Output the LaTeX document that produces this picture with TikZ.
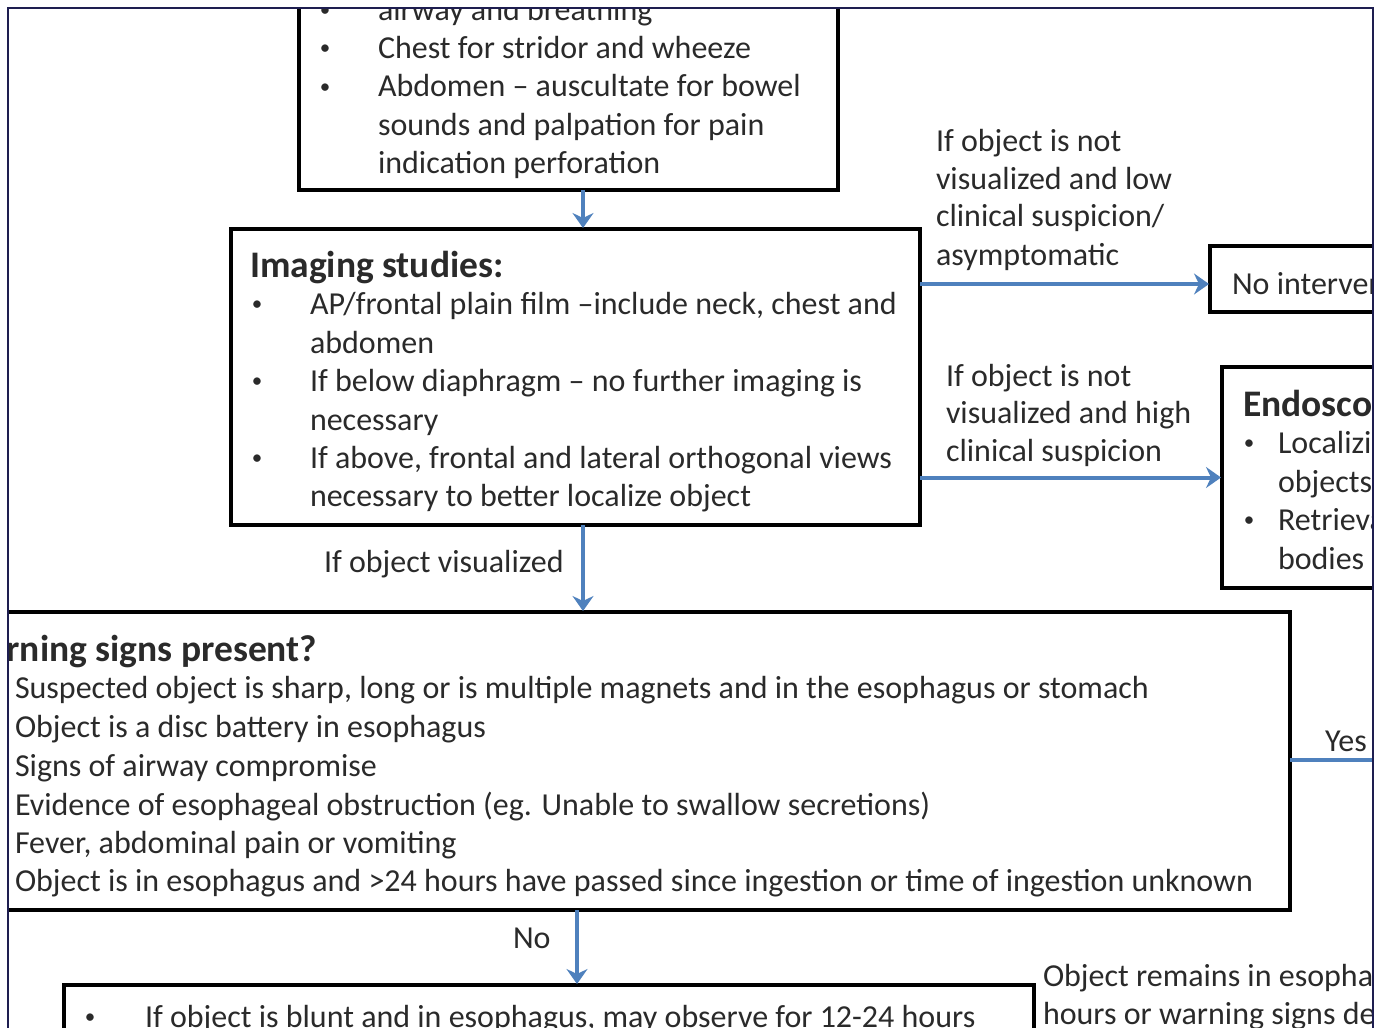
\documentclass[tikz,border=0pt]{standalone}
\usepackage{fontspec}
\setmainfont{Carlito}
\usetikzlibrary{arrows.meta}
\definecolor{arrblue}{HTML}{4F81BD}
\definecolor{txtcol}{HTML}{2A2A2A}
\definecolor{framecol}{HTML}{1E1E50}
\newcommand\bul{{\fontsize{21}{21}\selectfont\raisebox{3.5pt}{•}}}
\begin{document}
\begin{tikzpicture}[x=1pt,y=-1pt,
  boxst/.style={draw=black, line width=3.5pt, inner sep=0pt, outer sep=0pt, anchor=north west},
  txt/.style={anchor=base west, inner sep=0pt, outer sep=0pt, text=txtcol, font=\fontsize{32}{38.5}\selectfont},
  bulst/.style={anchor=base, inner sep=0pt, outer sep=0pt, text=txtcol},
  ttl/.style={txt, font=\fontsize{37.5}{45}\selectfont\bfseries},
  arr/.style={draw=arrblue, line width=4pt, -{Stealth[length=15pt,width=21pt,inset=5pt]}, shorten >=1pt},
  plainarr/.style={draw=arrblue, line width=4pt},
  ]
\useasboundingbox (0,0) rectangle (1387,1028);
\begin{scope}
\clip (8,8) rectangle (1373,1040);
% boxes
\node[boxst, minimum width=539pt, minimum height=270pt] (b1) at (299,-80) {};
\node[boxst, minimum width=689pt, minimum height=296pt] (b2) at (231,229) {};
\node[boxst, minimum width=270pt, minimum height=66pt] (noint) at (1210,246) {};
\node[boxst, minimum width=278pt, minimum height=221pt] (endo) at (1222,367) {};
\node[boxst, minimum width=1390pt, minimum height=298pt] (warn) at (-100,612) {};
\node[boxst, minimum width=970pt, minimum height=135pt] (bot) at (64,985) {};
% box 1 text
\node[bulst] (b1u1) at (325,20) {\bul};
\node[txt] (b1t1) at (378,20) {airway and breathing};
\node[bulst] (b1u2) at (325,58) {\bul};
\node[txt] (b1t2) at (378,58) {Chest for stridor and wheeze};
\node[bulst] (b1u3) at (325,96.5) {\bul};
\node[txt] (b1t3) at (378,96.5) {Abdomen – auscultate for bowel};
\node[txt] (b1t4) at (378,135) {sounds and palpation for pain};
\node[txt] (b1t5) at (378,173.5) {indication perforation};
% box 2 text
\node[ttl] (b2h) at (250,277) {Imaging studies:};
\node[bulst] (b2u1) at (257,314) {\bul};
\node[txt] (b2t1) at (310,314) {AP/frontal plain film –include neck, chest and};
\node[txt] (b2t2) at (310,353) {abdomen};
\node[bulst] (b2u2) at (257,391) {\bul};
\node[txt] (b2t3) at (310,391) {If below diaphragm – no further imaging is};
\node[txt] (b2t4) at (310,430) {necessary};
\node[bulst] (b2u3) at (257,468) {\bul};
\node[txt] (b2t5) at (310,468) {If above, frontal and lateral orthogonal views};
\node[txt] (b2t6) at (310,506) {necessary to better localize object};
% label low suspicion
\node[txt] (l1a) at (936,151) {If object is not};
\node[txt] (l1b) at (936,189) {visualized and low};
\node[txt] (l1c) at (936,226) {clinical suspicion/};
\node[txt] (l1d) at (936,265) {asymptomatic};
% no intervention
\node[txt] (nit) at (1232,294) {No intervention};
% label high suspicion
\node[txt] (l2a) at (946,386) {If object is not};
\node[txt] (l2b) at (946,423) {visualized and high};
\node[txt] (l2c) at (946,461) {clinical suspicion};
% endoscopy
\node[ttl] (enh) at (1243,416) {Endoscopy:};
\node[bulst] (enu1) at (1249,453) {\bul};
\node[txt] (ent1) at (1278,453) {Localizing};
\node[txt] (ent2) at (1278,492) {objects};
\node[bulst] (enu2) at (1249,530) {\bul};
\node[txt] (ent3) at (1278,530) {Retrieval};
\node[txt] (ent4) at (1278,569) {bodies};
% visualized label
\node[txt] (l3) at (324,572) {If object visualized};
% warning box
\node[ttl, anchor=base east] (wh) at (317,661) {Warning signs present?};
\node[txt] (w1) at (15,698) {Suspected object is sharp, long or is multiple magnets and in the esophagus or stomach};
\node[txt] (w2) at (15,737) {Object is a disc battery in esophagus};
\node[txt] (w3) at (15,776) {Signs of airway compromise};
\node[txt] (w4) at (15,815) {Evidence of esophageal obstruction (eg. Unable to swallow secretions)};
\node[txt] (w5) at (15,853) {Fever, abdominal pain or vomiting};
\node[txt] (w6) at (15,891) {Object is in esophagus and >24 hours have passed since ingestion or time of ingestion unknown};
\node[txt] (yes) at (1325,751) {Yes};
\node[txt] (no) at (513,948) {No};
% bottom box
\node[bulst] (bu1) at (90,1027) {\bul};
\node[txt] (bt1) at (145,1027) {If object is blunt and in esophagus, may observe for 12-24 hours};
\node[txt] (r1) at (1043,986) {Object remains in esophagus >24};
\node[txt] (r2) at (1043,1024) {hours or warning signs develop};
% connectors
\coordinate (ax1) at (583,0);
\coordinate (ay1) at (0,284);
\coordinate (ax2) at (577,0);
\coordinate (yesend) at (1400,760);
\draw[arr] (b1.south -| ax1) -- (b2.north -| ax1);
\draw[arr] (b2.east |- ay1) -- (noint.west |- ay1);
\draw[arr] (b2.east |- endo.west) -- (endo.west);
\draw[arr] (b2.south -| ax1) -- (warn.north -| ax1);
\draw[plainarr] (warn.east |- yesend) -- (yesend);
\draw[arr] (warn.south -| ax2) -- (bot.north -| ax2);
\end{scope}
% frame
\draw[framecol, line width=1.5pt] (8,1040) -- (8,8) -- (1373,8) -- (1373,1040);
\end{tikzpicture}
\end{document}
